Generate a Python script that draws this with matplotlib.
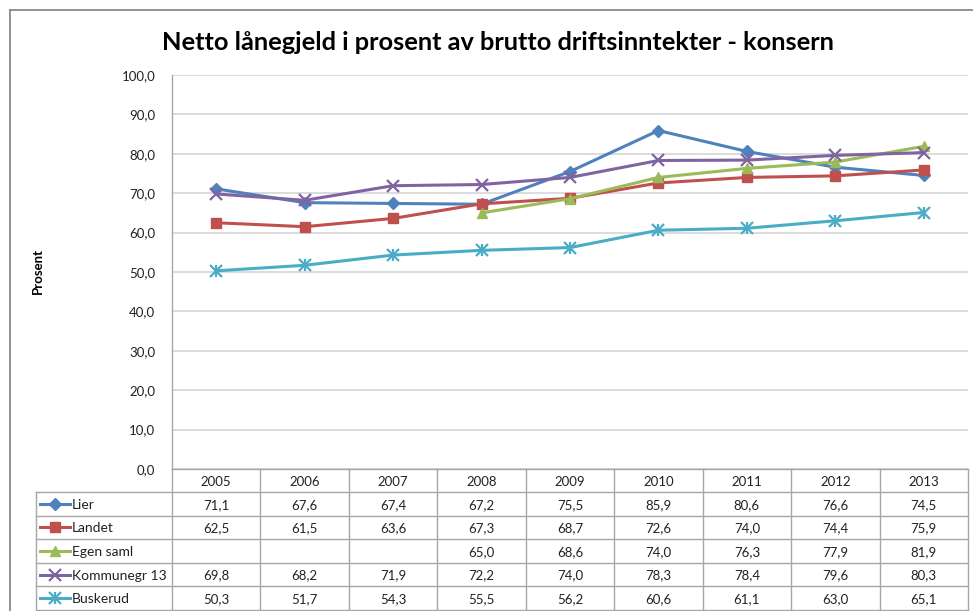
import numpy as np
import matplotlib
matplotlib.use("Agg")
import matplotlib.pyplot as plt
from matplotlib.lines import Line2D

plt.rcParams['font.family'] = ['Lato', 'DejaVu Sans']

years = ['2005', '2006', '2007', '2008', '2009', '2010', '2011', '2012', '2013']
series_names = ['Lier', 'Landet', 'Egen saml', 'Kommunegr 13', 'Buskerud']
lier = [71.1, 67.6, 67.4, 67.2, 75.5, 85.9, 80.6, 76.6, 74.5]
landet = [62.5, 61.5, 63.6, 67.3, 68.7, 72.6, 74.0, 74.4, 75.9]
egen_saml = [np.nan, np.nan, np.nan, 65.0, 68.6, 74.0, 76.3, 77.9, 81.9]
kommunegr13 = [69.8, 68.2, 71.9, 72.2, 74.0, 78.3, 78.4, 79.6, 80.3]
buskerud = [50.3, 51.7, 54.3, 55.5, 56.2, 60.6, 61.1, 63.0, 65.1]
yticks = [0, 10, 20, 30, 40, 50, 60, 70, 80, 90, 100]

all_series = [lier, landet, egen_saml, kommunegr13, buskerud]
colors = ['#4F81BD', '#C0504D', '#9BBB59', '#8064A2', '#4BACC6']
markers = ['D', 's', '^', 'x', 'x']
msizes = [6, 7, 7, 8, 8]

W, H = 973, 611
fig = plt.figure(figsize=(W / 100, H / 100), dpi=100)

def px(x0, y0, x1, y1):
    return [x0 / W, 1 - y1 / H, (x1 - x0) / W, (y1 - y0) / H]

grid_c = '#D9D9D9'
border_c = '#A6A6A6'

def draw_series(a, xs, ys, i, **kw):
    c, m, ms = colors[i], markers[i], msizes[i]
    mew = 1.6 if m == 'x' else 1
    a.plot(xs, ys, color=c, lw=2.2, marker=m, ms=ms, mfc=c, mec=c, mew=mew, zorder=3, **kw)
    if i == 4:
        # asterisk marker: x plus a vertical bar
        a.plot(xs, ys, ls='none', marker='|', ms=ms * 1.1, mec=c, mew=1.6, zorder=3, **kw)

# main plot
ax = fig.add_axes(px(172, 75, 968, 469))
x = np.arange(len(years))
for i, vals in enumerate(all_series):
    draw_series(ax, x, vals, i)
ax.set_xlim(-0.5, len(years) - 0.5)
ax.set_ylim(0, 100)
ax.set_yticks(yticks)
ax.set_yticklabels([f'{v:.1f}'.replace('.', ',') for v in yticks], fontsize=9.5, color='#222222')
ax.set_xticks([])
ax.tick_params(axis='y', length=0, pad=12)
ax.yaxis.grid(True, color=grid_c, lw=1.3)
ax.set_axisbelow(True)
for s in ['top', 'right', 'bottom']:
    ax.spines[s].set_visible(False)
ax.spines['left'].set_color(border_c)
ax.spines['left'].set_linewidth(1)

fig.text(38 / W, 1 - 271 / H, 'Prosent', rotation=90, ha='center', va='center',
         fontsize=9.5, fontweight='bold')
fig.text(0.512, 1 - 42 / H, 'Netto lånegjeld i prosent av brutto driftsinntekter - konsern',
         ha='center', va='center', fontsize=18.3, fontweight='bold')

# data table below
left_px = 36
tab = fig.add_axes(px(left_px, 469, 968, H))
col_w = (968 - 172) / len(years)
x_left = -0.5 - (172 - left_px) / col_w
tab.set_xlim(x_left, len(years) - 0.5)
tab.set_ylim(H - 469, 0)
tab.axis('off')

head_h = 23
row_h = 23.6
line_kw = dict(color=border_c, lw=1, clip_on=False)
tab.plot([-0.5, len(years) - 0.5], [0, 0], **line_kw)
for i in range(len(series_names) + 1):
    yy = head_h + i * row_h
    tab.plot([x_left, len(years) - 0.5], [yy, yy], **line_kw)
tab.plot([x_left, x_left], [head_h, H], **line_kw)
for j in range(len(years) + 1):
    tab.plot([j - 0.5, j - 0.5], [0, H], **line_kw)

for j, yr in enumerate(years):
    tab.text(j, head_h / 2 + 1, yr, ha='center', va='center', fontsize=9.5, color='#222222')

key_x0 = x_left + 4 / col_w
key_x1 = x_left + 34 / col_w
for i, (name, vals) in enumerate(zip(series_names, all_series)):
    yc = head_h + (i + 0.5) * row_h
    c = colors[i]
    tab.plot([key_x0, key_x1], [yc, yc], color=c, lw=2.2, clip_on=False)
    draw_series(tab, [(key_x0 + key_x1) / 2], [yc], i, clip_on=False)
    tab.text(key_x1 + 2 / col_w, yc + 1, name, ha='left', va='center', fontsize=10, color='#222222')
    for j, v in enumerate(vals):
        if np.isnan(v):
            continue
        tab.text(j, yc + 1, f'{v:.1f}'.replace('.', ','), ha='center', va='center',
                 fontsize=9.5, color='#222222')

# outer chart border
fig.add_artist(Line2D([10 / W, 1], [1 - 10 / H, 1 - 10 / H], color='#7F7F7F', lw=1.2))
fig.add_artist(Line2D([10 / W, 10 / W], [0, 1 - 10 / H], color='#7F7F7F', lw=1.2))

fig.savefig('out.png', dpi=100, facecolor='white')
